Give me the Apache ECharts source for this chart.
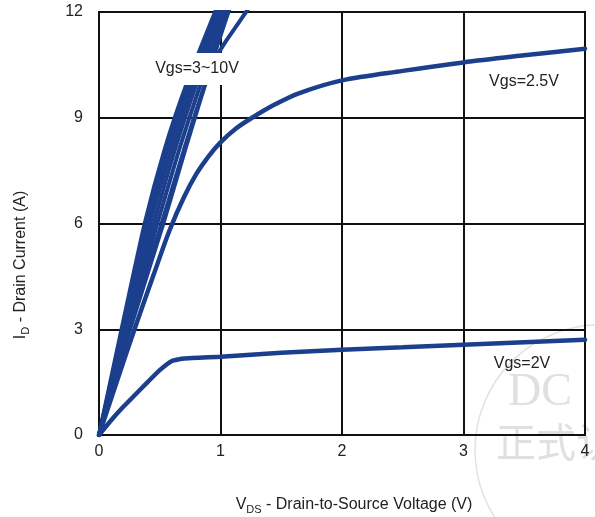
<!DOCTYPE html>
<html><head><meta charset="utf-8">
<script src="https://cdn.jsdelivr.net/npm/echarts@6/dist/echarts.min.js"></script>
<style>html,body{margin:0;padding:0;background:#fff}#c{width:595px;height:517px}</style>
</head><body><div id="c"></div>
<script>
// ---- data (VDS [V], ID [A]) ----
const vgs2V = [[0,0],[0.1,0.42],[0.2,0.8],[0.3,1.15],[0.4,1.5],[0.5,1.84],[0.6,2.1],[0.7,2.17],[1,2.22],[1.5,2.33],[2,2.42],[2.5,2.49],[3,2.56],[3.5,2.63],[4,2.7]];
const vgs25V = [[0,0],[0.15,1.55],[0.3,3.08],[0.45,4.55],[0.58,5.8],[0.7,6.75],[0.8,7.4],[0.9,7.9],[1.0,8.3],[1.13,8.7],[1.26,9.0],[1.45,9.38],[1.65,9.7],[2,10.06],[2.5,10.33],[3,10.57],[3.5,10.77],[4,10.96]];
const vgs10V = [[0,0],[0.19,3.07],[0.376,6],[0.54,8.1],[0.725,10],[0.955,12],[1.02,12.6]];
const vgs8V  = [[0,0],[0.2,3.07],[0.395,6],[0.565,8.1],[0.75,10],[0.975,12],[1.04,12.6]];
const vgs6V  = [[0,0],[0.212,3.07],[0.42,6],[0.595,8.1],[0.775,10],[0.995,12],[1.065,12.6]];
const vgs5V  = [[0,0],[0.225,3.07],[0.45,6],[0.625,8.1],[0.805,10],[1.015,12],[1.09,12.6]];
const vgs4V  = [[0,0],[0.24,3.07],[0.48,6],[0.66,8.1],[0.84,10],[1.04,12],[1.11,12.6]];
const vgs35V = [[0,0],[0.255,3.07],[0.515,6],[0.70,8.1],[0.875,10],[1.065,12],[1.135,12.6]];
const vgs3V  = [[0,0],[0.262,3.07],[0.53,6],[0.71,8.1],[0.88,10],[0.97,10.75],[1.05,11.2],[1.13,11.6],[1.21,12],[1.26,12.25]];
const curveLabels = ['Vgs=3~10V','Vgs=2.5V','Vgs=2V'];
const xName = 'Drain-to-Source Voltage (V)';
const yName = 'Drain Current (A)';

const col = '#1b3f8c';
const font = "'Liberation Sans', Arial, sans-serif";
function mk(d, w, s){ return {type:'line', data:d, showSymbol:false, smooth:s, clip:true,
  lineStyle:{color:col, width:w, cap:'round'}, itemStyle:{color:col}, z:3, silent:true}; }
const bands = [vgs10V, vgs8V, vgs6V, vgs5V, vgs4V, vgs35V, vgs3V];
const series = bands.map(d=>mk(d,4,0.2)).concat([mk(vgs25V,4.5,0.3), mk(vgs2V,4.5,0.15)]);

const chart = echarts.init(document.getElementById('c'));
chart.setOption({
  animation:false,
  backgroundColor:'#fff',
  grid:{left:99, right:10, top:12, bottom:82, show:true, borderColor:'#111', borderWidth:2, backgroundColor:'transparent'},
  xAxis:{type:'value', min:0, max:4, interval:1,
    axisLine:{show:true, lineStyle:{color:'#111', width:2}}, axisTick:{show:false},
    splitLine:{show:true, lineStyle:{color:'#111', width:2}},
    axisLabel:{color:'#222', fontSize:16, fontFamily:font, margin:9}},
  yAxis:{type:'value', min:0, max:12, interval:3,
    axisLine:{show:true, lineStyle:{color:'#111', width:2}}, axisTick:{show:false},
    splitLine:{show:true, lineStyle:{color:'#111', width:2}},
    axisLabel:{color:'#222', fontSize:16, fontFamily:font, margin:16}},
  series: series,
  graphic:[
    {type:'circle', z:-10, shape:{cx:600, cy:450, r:125}, style:{fill:'none', stroke:'#e2e2e2', lineWidth:1.5}},
    {type:'text', z:-10, x:508, y:393, style:{text:'DC', fill:'#e0e0e0', font:"46px 'Liberation Serif', serif", verticalAlign:'middle'}},
    {type:'text', z:-10, x:496, y:442, style:{text:'正式认', fill:'#e0e0e0', font:"40px 'Noto Sans CJK SC', sans-serif", verticalAlign:'middle'}},
    {type:'text', z:100, x:197, y:69, style:{text:curveLabels[0], fill:'#222', font:"16px "+font, align:'center', verticalAlign:'middle', backgroundColor:'#fff', padding:[8,4]}},
    {type:'text', z:100, x:524, y:82, style:{text:curveLabels[1], fill:'#222', font:"16px "+font, align:'center', verticalAlign:'middle'}},
    {type:'text', z:100, x:522, y:364, style:{text:curveLabels[2], fill:'#222', font:"16px "+font, align:'center', verticalAlign:'middle'}},
    {type:'text', z:100, x:354, y:505, style:{text:'{n|V}{s|DS}{n| - '+xName+'}', align:'center', verticalAlign:'middle',
      rich:{n:{fontSize:16, fontFamily:font, fill:'#222', color:'#222', lineHeight:20}, s:{fontSize:11, fontFamily:font, color:'#222', fill:'#222', lineHeight:11, verticalAlign:'bottom'}}}},
    {type:'text', z:100, x:21, y:265, rotation:Math.PI/2, style:{text:'{n|I}{s|D}{n| - '+yName+'}', align:'center', verticalAlign:'middle',
      rich:{n:{fontSize:16, fontFamily:font, fill:'#222', color:'#222', lineHeight:20}, s:{fontSize:11, fontFamily:font, color:'#222', fill:'#222', lineHeight:11, verticalAlign:'bottom'}}}}
  ]
});
</script></body></html>
